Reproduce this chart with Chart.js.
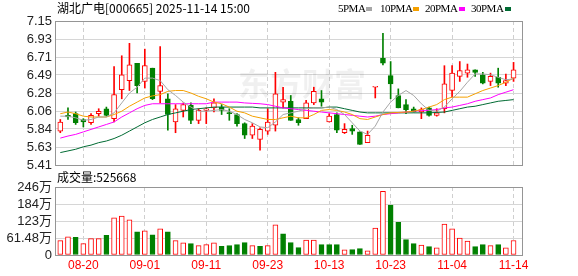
<!DOCTYPE html>
<html>
<head>
<meta charset="utf-8">
<script src="https://cdn.jsdelivr.net/npm/chart.js@4.4.1/dist/chart.umd.min.js"></script>
<style>
  html, body { margin: 0; padding: 0; background: #fff; }
  #wrap { position: relative; width: 578px; height: 276px; overflow: hidden; background: #fff;
          font-family: "Noto Sans CJK SC", "Liberation Sans", sans-serif; }
  canvas { position: absolute; left: 0; }
  #kline { top: 0; }
  #vol { top: 170px; }
  .txt { position: absolute; white-space: nowrap; color: #000; }
  .title { left: 57px; top: 0; font-size: 12px; line-height: 16px; }
  .leg { top: 1px; font: 11px "Liberation Serif", serif; line-height: 14px; letter-spacing: -0.5px; }
  .sw { position: absolute; top: 7px; width: 6px; height: 4px; }
  .voltitle { left: 57px; top: 169px; font-size: 12px; line-height: 16px; }
</style>
</head>
<body>
<div id="wrap">
  <canvas id="kline" width="578" height="180"></canvas>
  <canvas id="vol" width="578" height="106"></canvas>
  <div class="txt title">湖北广电[000665] 2025-11-14 15:00</div>
  <div class="txt leg" style="left:338px">5PMA</div><div class="sw" style="left:366px;background:#a6a6a6"></div>
  <div class="txt leg" style="left:380px">10PMA</div><div class="sw" style="left:413px;background:#f5a000"></div>
  <div class="txt leg" style="left:425px">20PMA</div><div class="sw" style="left:459px;background:#ff00ff"></div>
  <div class="txt leg" style="left:471px">30PMA</div><div class="sw" style="left:505px;background:#006b33"></div>
  <div class="txt voltitle">成交量:525668</div>
</div>
<script>
// trading days shown on the chart
const dates = ['08-15','08-18','08-19','08-20','08-21','08-22','08-25','08-26','08-27','08-28',
  '08-29','09-01','09-02','09-03','09-04','09-05','09-08','09-09','09-10','09-11',
  '09-12','09-15','09-16','09-17','09-18','09-19','09-22','09-23','09-24','09-25',
  '09-26','09-29','09-30','10-09','10-10','10-13','10-14','10-15','10-16','10-17',
  '10-20','10-21','10-22','10-23','10-24','10-27','10-28','10-29','10-30','10-31',
  '11-03','11-04','11-05','11-06','11-07','11-10','11-11','11-12','11-13','11-14'];

const opens = [5.82,6.01,6.03,5.96,5.92,6.03,6.09,5.97,6.32,6.43,
  6.64,6.42,6.58,6.30,6.21,5.93,6.07,6.13,5.95,6.07,
  6.10,6.11,6.04,6.02,5.91,5.77,5.72,5.82,5.89,6.17,
  6.18,5.96,5.97,6.16,6.21,5.93,6.02,5.80,5.85,5.81,
  5.68,6.35,6.70,6.49,6.25,6.14,6.09,6.05,6.10,6.01,
  6.09,6.31,6.48,6.52,6.56,6.50,6.42,6.47,6.40,6.46];
const highs = [5.96,6.10,6.05,5.97,6.03,6.09,6.11,6.60,6.73,6.88,
  6.64,6.81,6.58,6.84,6.27,6.14,6.16,6.16,6.09,6.10,
  6.21,6.14,6.09,6.03,5.92,5.91,5.86,6.09,6.53,6.35,
  6.25,5.98,6.19,6.35,6.31,6.03,6.04,5.91,5.89,5.81,
  5.82,6.35,7.00,6.66,6.33,6.20,6.11,6.10,6.11,6.09,
  6.61,6.61,6.66,6.63,6.56,6.53,6.52,6.58,6.51,6.65];
const lows = [5.80,5.96,5.90,5.87,5.90,6.00,6.00,5.93,6.21,6.31,
  6.28,6.34,6.20,6.16,5.83,5.80,5.99,5.91,5.91,5.91,
  6.05,6.02,5.95,5.88,5.73,5.73,5.59,5.78,5.82,6.10,
  5.95,5.89,5.97,6.14,6.12,5.93,5.80,5.79,5.78,5.66,
  5.68,6.22,6.62,6.21,6.10,6.03,6.05,5.97,6.00,6.00,
  6.04,6.23,6.42,6.47,6.48,6.39,6.37,6.35,6.37,6.42];
const closes = [5.93,5.99,5.92,5.93,6.01,6.06,6.01,6.26,6.50,6.62,
  6.37,6.61,6.21,6.37,6.02,6.09,6.14,5.95,6.07,6.09,
  6.16,6.07,6.03,5.91,5.77,5.88,5.84,5.93,6.27,6.20,
  5.95,5.92,6.16,6.30,6.17,6.00,5.83,5.84,5.82,5.66,
  5.77,6.35,6.64,6.39,6.10,6.08,6.05,6.08,6.01,6.04,
  6.39,6.52,6.55,6.56,6.53,6.40,6.48,6.40,6.43,6.56];

const ma5 = [6.00,6.00,5.98,5.95,5.96,5.99,5.99,6.04,6.16,6.28,
  6.35,6.46,6.46,6.43,6.32,6.25,6.17,6.11,6.06,6.06,
  6.07,6.08,6.06,6.02,5.96,5.92,5.87,5.86,5.93,6.02,
  6.04,6.06,6.09,6.10,6.10,6.11,6.08,6.02,5.92,5.82,
  5.78,5.88,6.05,6.17,6.25,6.31,6.25,6.15,6.07,6.06,
  6.11,6.21,6.30,6.41,6.51,6.51,6.50,6.47,6.44,6.45];
const ma10 = [6.03,6.05,6.03,6.00,5.99,5.99,5.99,6.02,6.06,6.12,
  6.17,6.22,6.245,6.26,6.30,6.31,6.31,6.28,6.24,6.21,
  6.17,6.15,6.11,6.06,6.04,6.00,5.98,5.96,5.96,5.98,
  6.00,5.98,5.98,6.02,6.07,6.08,6.07,6.05,6.02,5.97,
  5.96,5.99,6.02,6.04,6.045,6.05,6.06,6.08,6.11,6.14,
  6.20,6.23,6.23,6.23,6.27,6.31,6.34,6.37,6.41,6.46];
const ma20 = [5.735,5.76,5.78,5.81,5.84,5.87,5.90,5.93,5.99,6.04,
  6.09,6.13,6.15,6.15,6.15,6.15,6.15,6.15,6.15,6.15,
  6.17,6.17,6.17,6.17,6.16,6.155,6.15,6.14,6.12,6.10,
  6.09,6.08,6.07,6.06,6.05,6.04,6.03,6.02,6.01,6.00,
  5.99,6.00,6.02,6.03,6.04,6.05,6.06,6.07,6.07,6.08,
  6.10,6.11,6.13,6.15,6.18,6.20,6.22,6.26,6.29,6.32];
const ma30 = [5.56,5.58,5.60,5.63,5.65,5.68,5.70,5.73,5.77,5.82,
  5.87,5.92,5.96,5.99,6.02,6.04,6.06,6.08,6.09,6.10,
  6.11,6.11,6.11,6.11,6.11,6.11,6.10,6.10,6.10,6.10,
  6.10,6.10,6.10,6.10,6.10,6.11,6.11,6.09,6.07,6.05,
  6.04,6.04,6.04,6.04,6.04,6.04,6.04,6.04,6.04,6.045,
  6.05,6.07,6.09,6.11,6.12,6.14,6.16,6.18,6.19,6.20];

// volume in 万手, and whether the day closed up (red) or down (green)
const volumes = [51.8,66,63.7,41,59,59,70.9,134,141,127,
  84,87.6,73,94.7,84,51.8,43.6,41,34,37.5,
  43.6,31.5,34,37.5,44.7,34,31.5,34,109,76.8,
  44.7,26.8,54.3,54.3,37.5,37.5,37.5,18.5,19.7,23.2,
  14.9,97.2,230.5,180.5,118.6,55.4,41.1,36.3,30.4,25.6,
  111.4,94.7,61.4,50.7,30.4,37.5,34,37.5,25.6,52.57];
const volUp = [1,1,0,1,1,1,0,1,1,1, 0,1,0,1,0,1,1,0,1,1,
  1,0,0,0,0,1,0,1,1,0, 0,0,1,1,0,0,0,1,0,0,
  1,1,1,0,0,0,0,1,0,1, 1,1,1,1,0,0,1,0,1,1];

const priceTicks = ['5.41','5.63','5.84','6.06','6.28','6.49','6.71','6.93','7.15'];
const volTicks = ['0','61.48万','123万','184万','246万'];

const RED = '#ff0000';
const GREEN = '#008000';
const xMin = -0.69, xMax = 60.1;
const priceMin = 5.41, priceMax = 7.15;
const volMax = 245.92;
const labelFont = { family: '"Liberation Sans", "Noto Sans CJK SC", sans-serif', size: 13 };

const isUp = closes.map((c, i) => c >= opens[i]);
const tickIdx = dates.map((d, i) => i).filter(i => (i - 3) % 8 === 0);

// grey frame around plot areas
const frame = {
    id: 'frame',
    afterDraw(chart) {
        const { ctx, chartArea: a } = chart;
        ctx.save();
        ctx.strokeStyle = '#959595';
        ctx.lineWidth = 1;
        ctx.strokeRect(Math.round(a.left) + 0.5, Math.round(a.top) + 0.5,
            Math.round(a.right - a.left), Math.round(a.bottom - a.top));
        ctx.restore();
    }
};

const watermark = {
    id: 'watermark',
    beforeDatasetsDraw(chart) {
        const { ctx } = chart;
        ctx.save();
        ctx.fillStyle = 'rgba(0,0,0,0.06)';
        ctx.font = 'bold 32px "Noto Sans CJK SC"';
        ctx.textAlign = 'center';
        ctx.textBaseline = 'middle';
        ctx.fillText('东方财富', 302, 84);
        ctx.restore();
    }
};

const maLine = (vals, color) => ({
    type: 'line',
    data: vals.map((v, i) => ({ x: i, y: v })),
    borderColor: color,
    borderWidth: 1,
    pointRadius: 0,
    tension: 0,
    order: 0
});

const xGrid = {
    type: 'linear',
    min: xMin,
    max: xMax,
    offset: false,
    afterBuildTicks: s => { s.ticks = tickIdx.map(v => ({ value: v })); },
    grid: { color: '#cfcfcf', drawTicks: false, offset: false },
    border: { display: false, dash: [4, 3] }
};

new Chart(document.getElementById('kline'), {
    type: 'bar',
    data: {
        datasets: [
            maLine(ma5, '#a6a6a6'),
            maLine(ma10, '#f5a000'),
            maLine(ma20, '#ff00ff'),
            maLine(ma30, '#006b33'),
            {
                type: 'bar',
                data: dates.map((d, i) => ({ x: i, y: [opens[i], closes[i]] })),
                backgroundColor: isUp.map(u => u ? '#ffffff' : GREEN),
                borderColor: isUp.map(u => u ? RED : GREEN),
                borderWidth: 1,
                borderSkipped: false,
                barThickness: 5,
                minBarLength: 1,
                grouped: false,
                order: 1
            },
            {
                type: 'bar',
                data: dates.map((d, i) => ({ x: i, y: [lows[i], highs[i]] })),
                backgroundColor: isUp.map(u => u ? RED : GREEN),
                barThickness: 1,
                grouped: false,
                order: 2
            }
        ]
    },
    options: {
        responsive: false,
        animation: false,
        devicePixelRatio: 1,
        layout: { padding: { top: 21, right: 56, bottom: 15, left: 0 } },
        plugins: { legend: { display: false }, tooltip: { enabled: false } },
        scales: {
            x: {
                ...xGrid,
                ticks: { display: false },
                afterFit: s => { s.height = 0; }
            },
            y: {
                min: priceMin,
                max: priceMax,
                afterBuildTicks: s => {
                    s.ticks = priceTicks.map((t, k) => ({ value: priceMin + k * (priceMax - priceMin) / 8 }));
                },
                ticks: { callback: (v, i) => priceTicks[i], color: '#222', font: labelFont, padding: 3, autoSkip: false },
                grid: { color: '#d6d6d6', drawTicks: false },
                border: { display: false },
                afterFit: s => { s.width = 55; }
            }
        }
    },
    plugins: [watermark, frame]
});

new Chart(document.getElementById('vol'), {
    type: 'bar',
    data: {
        datasets: [{
            data: volumes.map((v, i) => ({ x: i, y: v })),
            backgroundColor: volUp.map(u => u ? '#ffffff' : GREEN),
            borderColor: volUp.map(u => u ? RED : GREEN),
            borderWidth: 1,
            borderSkipped: false,
            barThickness: 5
        }]
    },
    options: {
        responsive: false,
        animation: false,
        devicePixelRatio: 1,
        layout: { padding: { top: 17, right: 56, bottom: 0, left: 0 } },
        plugins: { legend: { display: false }, tooltip: { enabled: false } },
        scales: {
            x: {
                ...xGrid,
                ticks: {
                    callback: v => dates[v],
                    color: RED,
                    font: { family: '"Liberation Sans", sans-serif', size: 12 },
                    padding: 3,
                    maxRotation: 0,
                    autoSkip: false
                },
                afterFit: s => { s.height = 21; }
            },
            y: {
                min: 0,
                max: volMax,
                afterBuildTicks: s => {
                    s.ticks = volTicks.map((t, k) => ({ value: k * volMax / 4 }));
                },
                ticks: { callback: (v, i) => volTicks[i], color: '#222', font: labelFont, padding: 3, autoSkip: false },
                grid: { color: '#d6d6d6', drawTicks: false },
                border: { display: false },
                afterFit: s => { s.width = 55; }
            }
        }
    },
    plugins: [frame]
});
</script>
</body>
</html>
